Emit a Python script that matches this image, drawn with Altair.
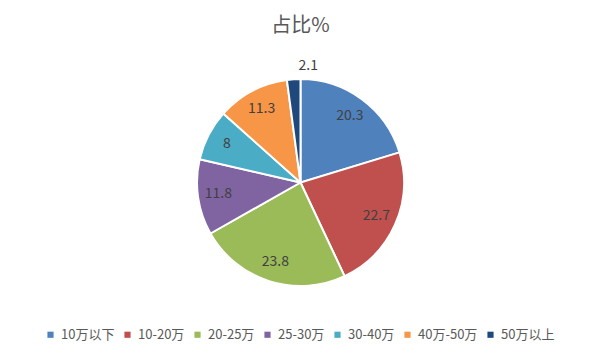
import altair as alt
import pandas as pd

title_text = "占比%"
categories = ["10万以下", "10-20万", "20-25万", "25-30万", "30-40万", "40万-50万", "50万以上"]
values = [20.3, 22.7, 23.8, 11.8, 8, 11.3, 2.1]
labels = ["20.3", "22.7", "23.8", "11.8", "8", "11.3", "2.1"]
colors = ["#4F81BD", "#C0504D", "#9BBB59", "#8064A2", "#4BACC6", "#F79646", "#1F497D"]

df = pd.DataFrame({"cat": categories, "value": values, "label": labels, "idx": list(range(len(values)))})

FONT = "Noto Sans CJK SC"
CX, CY = 292.5, 174.5

base = alt.Chart(df).encode(
    theta=alt.Theta("value:Q", stack=True),
    order=alt.Order("idx:Q"),
)

arcs = base.mark_arc(outerRadius=103.5, stroke="white", strokeWidth=2).encode(
    x=alt.value(CX),
    y=alt.value(CY),
    color=alt.Color(
        "cat:N",
        scale=alt.Scale(domain=categories, range=colors),
        sort=categories,
        legend=alt.Legend(
            title=None,
            orient="none",
            legendX=36,
            legendY=320,
            direction="horizontal",
            columns=7,
            symbolType="square",
            symbolSize=38,
            symbolStrokeWidth=0,
            labelFont=FONT,
            labelFontSize=13,
            labelColor="#595959",
            labelOffset=4,
            columnPadding=6,
            padding=0,
        ),
    ),
)

text = base.transform_calculate(r="datum.value < 5 ? 117 : 83").mark_text(
    font=FONT, fontSize=14, color="#404040", baseline="middle", align="center"
).encode(
    x=alt.value(CX),
    y=alt.value(CY),
    radius=alt.Radius("r:Q", scale=None),
    text="label:N",
)

title_df = pd.DataFrame({"t": [title_text]})
title = alt.Chart(title_df).mark_text(
    font=FONT, fontSize=20, color="#595959", baseline="middle", align="center"
).encode(
    x=alt.value(CX),
    y=alt.value(18),
    text="t:N",
)

chart = alt.layer(arcs, text, title).properties(
    width=584,
    height=344,
    autosize=alt.AutoSizeParams(type="none"),
    padding=0,
).configure_view(stroke=None)

chart.save("out.html", embed_options={"renderer": "svg", "actions": False})
